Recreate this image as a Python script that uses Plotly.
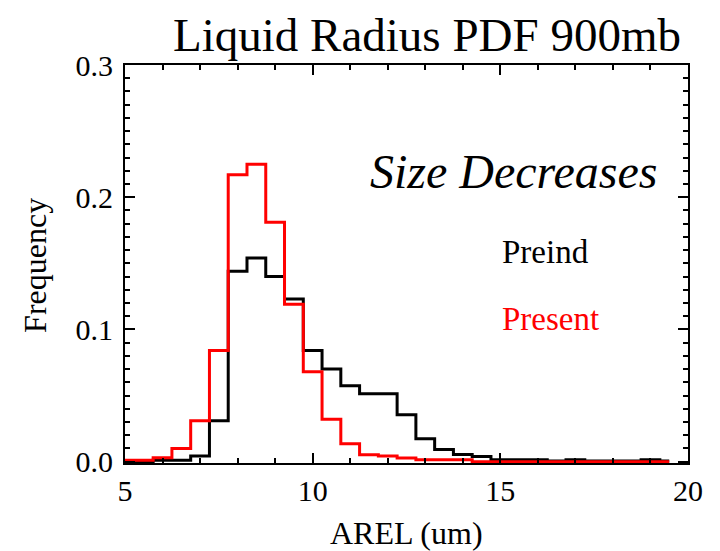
import plotly.graph_objects as go

# Bin centres (um)
arel = [5.0, 5.5, 6.0, 6.5, 7.0, 7.5, 8.0, 8.5, 9.0, 9.5,
        10.0, 10.5, 11.0, 11.5, 12.0, 12.5, 13.0, 13.5, 14.0, 14.5,
        15.0, 15.5, 16.0, 16.5, 17.0, 17.5, 18.0, 18.5, 19.0, 19.5]

preind = [0.0, 0.0, 0.001, 0.001, 0.0043, 0.031, 0.144, 0.154, 0.140, 0.123,
          0.084, 0.070, 0.0575, 0.0513, 0.0513, 0.0354, 0.0173, 0.0093, 0.0055, 0.004,
          0.0015, 0.0015, 0.0015, 0.0005, 0.0015, 0.0005, 0.0005, 0.0005, 0.0015, 0.0005]

present = [0.001, 0.001, 0.003, 0.010, 0.031, 0.084, 0.217, 0.225, 0.181, 0.119,
           0.068, 0.032, 0.0136, 0.0053, 0.0043, 0.0028, 0.0015, 0.0015, 0.0015, 0.0,
           0.0, 0.0, 0.0, 0.0, 0.0, 0.0, 0.0, 0.0, 0.0, 0.0]

x_ticks = [5, 10, 15, 20]
y_ticks = [0.0, 0.1, 0.2, 0.3]

FONT = "Liberation Serif"

# page is drawn with an 8px body margin, so the figure is sized 712x543
W, H = 712, 543

fig = go.Figure()
fig.add_trace(go.Scatter(x=arel, y=preind, mode="lines", line=dict(color="black", width=3, shape="hvh"),
                         name="Preind", showlegend=False))
fig.add_trace(go.Scatter(x=arel, y=present, mode="lines", line=dict(color="#ff0000", width=3, shape="hvh"),
                         name="Present", showlegend=False))

fig.update_layout(
    width=W, height=H,
    margin=dict(l=117, r=32, t=57, b=88),
    paper_bgcolor="white", plot_bgcolor="white",
    font=dict(family=FONT, color="black"),
    title=dict(text="Liquid Radius PDF 900mb", x=419 / W, xanchor="center", xref="container",
               y=1 - 27 / H, yanchor="middle", font=dict(family=FONT, size=47, color="black")),
)

fig.update_xaxes(
    range=[5, 20], tickvals=x_ticks, ticktext=[str(v) for v in x_ticks],
    showgrid=False, zeroline=False,
    showline=True, linecolor="black", linewidth=2, mirror="allticks",
    ticks="inside", ticklen=10, tickwidth=1.5, tickcolor="black",
    minor=dict(ticks="inside", ticklen=5, dtick=1, tickwidth=1.5, tickcolor="black", showgrid=False),
    tickfont=dict(family=FONT, size=30, color="black"),
)
fig.update_yaxes(
    range=[-0.001, 0.3], tickvals=y_ticks, ticktext=["%.1f" % v for v in y_ticks],
    showgrid=False, zeroline=False,
    showline=True, linecolor="black", linewidth=2, mirror="allticks",
    ticks="inside", ticklen=10, tickwidth=1.5, tickcolor="black",
    minor=dict(ticks="inside", ticklen=5, dtick=0.01, tick0=0, tickwidth=1.5, tickcolor="black", showgrid=False),
    tickfont=dict(family=FONT, size=30, color="black"),
    ticklabelstandoff=4,
)

fig.add_annotation(text="AREL (um)", xref="paper", yref="paper", x=0.5, y=(463 - 533) / 398,
                   xanchor="center", yanchor="middle", showarrow=False,
                   font=dict(family=FONT, size=32, color="black"))
fig.add_annotation(text="Frequency", xref="paper", yref="paper", x=(35 - 125) / 562.5, y=0.4975,
                   xanchor="center", yanchor="middle", textangle=-90, showarrow=False,
                   font=dict(family=FONT, size=32, color="black"))
fig.add_annotation(text="<i>Size Decreases</i>", xref="x", yref="y", x=11.47, y=0.2193,
                   xanchor="left", yanchor="middle", showarrow=False,
                   font=dict(family=FONT, size=48, color="black"))
fig.add_annotation(text="Preind", xref="x", yref="y", x=15.0, y=0.1583,
                   xanchor="left", yanchor="middle", showarrow=False,
                   font=dict(family=FONT, size=33, color="black"))
fig.add_annotation(text="Present", xref="x", yref="y", x=15.0, y=0.1078,
                   xanchor="left", yanchor="middle", showarrow=False,
                   font=dict(family=FONT, size=33, color="#ff0000"))

fig.write_html("out.html")
